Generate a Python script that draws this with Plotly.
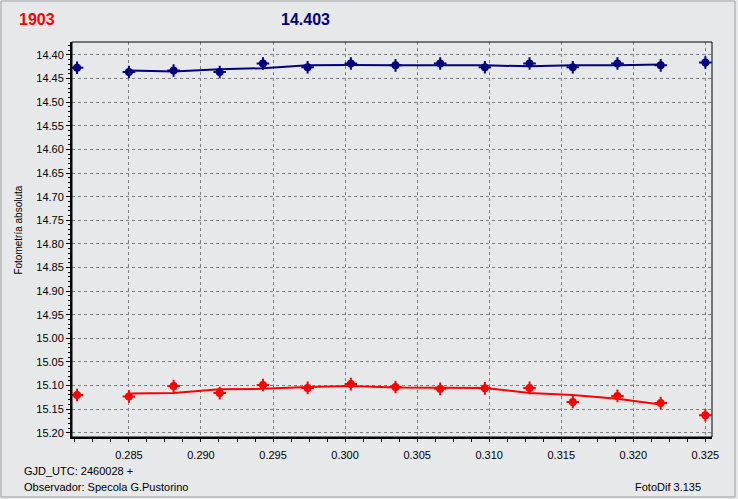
import plotly.graph_objects as go

# ---- data ----
x_obs = [0.2814, 0.2850, 0.2881, 0.2913, 0.2943, 0.2974, 0.3004, 0.3035,
         0.3066, 0.3097, 0.3128, 0.3158, 0.3189, 0.3219, 0.3250]
blue_obs = [14.427, 14.436, 14.433, 14.436, 14.418, 14.426, 14.418, 14.422,
            14.418, 14.426, 14.418, 14.426, 14.418, 14.422, 14.416]
red_obs = [15.120, 15.123, 15.101, 15.116, 15.099, 15.105, 15.097, 15.103,
           15.107, 15.106, 15.105, 15.135, 15.122, 15.137, 15.163]

x_fit = [0.2850, 0.2881, 0.2913, 0.2943, 0.2974, 0.3004, 0.3035,
         0.3066, 0.3097, 0.3128, 0.3158, 0.3189, 0.3219]
blue_fit = [14.433, 14.435, 14.430, 14.428, 14.422, 14.421, 14.422,
            14.422, 14.422, 14.424, 14.422, 14.422, 14.420]
red_fit = [15.117, 15.116, 15.108, 15.107, 15.103, 15.101, 15.104,
           15.105, 15.105, 15.116, 15.120, 15.128, 15.140]

title_left = "1903"
title_right = "14.403"
y_title = "Fotometría absoluta"
foot1 = "GJD_UTC: 2460028 +"
foot2 = "Observador: Specola G.Pustorino"
foot3 = "FotoDif 3.135"

RED = "#FF0000"
NAVY = "#000080"
BG = "#E7E8EA"
FONT = "Liberation Sans, Arial, sans-serif"

W, H = 738, 499
L, R, T, B = 72, 712, 42, 437


def px(x):
    return (x - L) / (R - L)


def py(y):
    return (B - y) / (B - T)


fig = go.Figure()

for yfit, yobs, col in [(blue_fit, blue_obs, NAVY), (red_fit, red_obs, RED)]:
    fig.add_trace(go.Scatter(x=x_fit, y=yfit, mode="lines",
                             line=dict(color=col, width=2), hoverinfo="skip"))
    fig.add_trace(go.Scatter(x=x_obs, y=yobs, mode="markers",
                             marker=dict(symbol="circle", size=8, color=col,
                                         line=dict(width=0))))
    fig.add_trace(go.Scatter(x=x_obs, y=yobs, mode="markers",
                             marker=dict(symbol="cross-thin", size=9,
                                         line=dict(width=2, color=col))))

fig.update_layout(
    width=W, height=H,
    paper_bgcolor=BG, plot_bgcolor=BG,
    showlegend=False,
    margin=dict(l=L, r=W - R, t=T, b=H - B, pad=0),
    font=dict(family=FONT, size=11, color="black"),
)

fig.update_xaxes(
    range=[0.28105, 0.32546], autorange=False,
    tick0=0.285, dtick=0.005, tickformat=".3f",
    showgrid=True, gridcolor="#7F7F7F", gridwidth=1, griddash="3px,3px",
    zeroline=False,
    showline=True, linecolor="black", linewidth=2, mirror=False,
    ticks="outside", ticklen=3, tickcolor="black", tickwidth=1,
    minor=dict(dtick=0.00125, tick0=0.285, ticks="outside", ticklen=3,
               tickcolor="black", showgrid=False),
    tickfont=dict(family=FONT, size=11, color="black"),
    ticklabelstandoff=4,
)
fig.update_yaxes(
    range=[15.209, 14.3725], autorange=False,
    tick0=14.40, dtick=0.05, tickformat=".2f",
    showgrid=True, gridcolor="#7F7F7F", gridwidth=1, griddash="3px,3px",
    zeroline=False,
    showline=True, linecolor="black", linewidth=2, mirror=False,
    ticks="outside", ticklen=4, tickcolor="black", tickwidth=1,
    minor=dict(dtick=0.01, tick0=14.40, ticks="outside", ticklen=2,
               tickcolor="black", showgrid=False),
    tickfont=dict(family=FONT, size=11, color="black"),
)

# thin top/right frame of plot area
fig.add_shape(type="rect", xref="paper", yref="paper", x0=0, x1=1, y0=0, y1=1,
              line=dict(color="black", width=1), layer="above")
# window border
fig.add_shape(type="rect", xref="paper", yref="paper",
              x0=px(1), x1=px(735), y0=py(497), y1=py(1),
              line=dict(color="#A0A0A0", width=1), layer="below")

ann = [
    dict(text=title_left, x=px(18), y=py(19.5), xanchor="left",
         font=dict(size=16, color=RED, family=FONT, weight="bold")),
    dict(text=title_right, x=px(280), y=py(19.5), xanchor="left",
         font=dict(size=16, color=NAVY, family=FONT, weight="bold")),
    dict(text=y_title, x=px(19), y=py(230.6), xanchor="center", textangle=-90,
         font=dict(size=10, color="black", family=FONT)),
    dict(text=foot1, x=px(22.7), y=py(471), xanchor="left",
         font=dict(size=11, color="black", family=FONT)),
    dict(text=foot2, x=px(22.7), y=py(486.7), xanchor="left",
         font=dict(size=11, color="black", family=FONT)),
    dict(text=foot3, x=px(701.7), y=py(486.7), xanchor="right",
         font=dict(size=11, color="black", family=FONT)),
]
for a in ann:
    fig.add_annotation(xref="paper", yref="paper", yanchor="middle",
                       showarrow=False, borderpad=0, **a)

fig.write_html(
    "out.html",
    config={"displayModeBar": False},
    post_script="document.body.style.margin='0';document.body.style.overflow='hidden';",
)
